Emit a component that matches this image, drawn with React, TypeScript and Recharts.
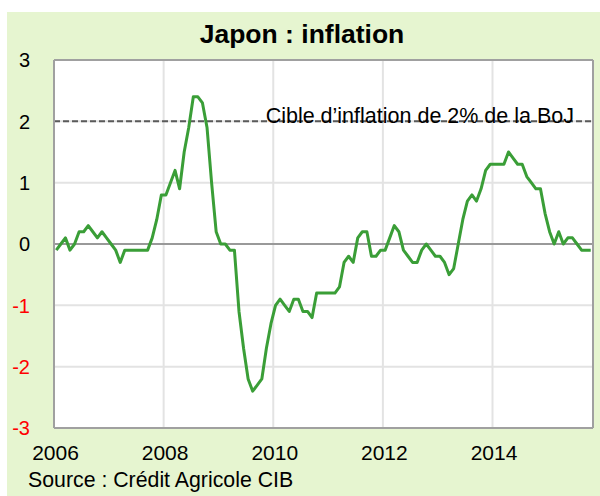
import { LineChart, Line, XAxis, YAxis, CartesianGrid, ReferenceLine } from "recharts";

// Inflation sous-jacente, glissement annuel (%), mensuel
const infl2006 = [-0.1, 0.0, 0.1, -0.1, 0.0, 0.2, 0.2, 0.3, 0.2, 0.1, 0.2, 0.1];
const infl2007 = [0.0, -0.1, -0.3, -0.1, -0.1, -0.1, -0.1, -0.1, -0.1, 0.1, 0.4, 0.8];
const infl2008 = [0.8, 1.0, 1.2, 0.9, 1.5, 1.9, 2.4, 2.4, 2.3, 1.9, 1.0, 0.2];
const infl2009 = [0.0, 0.0, -0.1, -0.1, -1.1, -1.7, -2.2, -2.4, -2.3, -2.2, -1.7, -1.3];
const infl2010 = [-1.0, -0.9, -1.0, -1.1, -0.9, -0.9, -1.1, -1.1, -1.2, -0.8, -0.8, -0.8];
const infl2011 = [-0.8, -0.8, -0.7, -0.3, -0.2, -0.3, 0.1, 0.2, 0.2, -0.2, -0.2, -0.1];
const infl2012 = [-0.1, 0.1, 0.3, 0.2, -0.1, -0.2, -0.3, -0.3, -0.1, 0.0, -0.1, -0.2];
const infl2013 = [-0.2, -0.3, -0.5, -0.4, 0.0, 0.4, 0.7, 0.8, 0.7, 0.9, 1.2, 1.3];
const infl2014 = [1.3, 1.3, 1.3, 1.5, 1.4, 1.3, 1.3, 1.1, 1.0, 0.9, 0.9, 0.5];
const infl2015 = [0.2, 0.0, 0.2, 0.0, 0.1, 0.1, 0.0, -0.1, -0.1, -0.1];

const years = [2006, 2007, 2008, 2009, 2010, 2011, 2012, 2013, 2014, 2015];
const series = [infl2006, infl2007, infl2008, infl2009, infl2010, infl2011, infl2012, infl2013, infl2014, infl2015];

const xTicks = [2006, 2008, 2010, 2012, 2014];
const yTicks = [-3, -2, -1, 0, 1, 2, 3];
const target = 2;
const xMax = 2015 + 10 / 12;

const data = series.flatMap((vals, i) =>
  vals.map((v, m) => ({ t: years[i] + (m + 0.5) / 12, v }))
);

const FONT = "'Liberation Sans', Arial, sans-serif";

const YTick = (props: any) => {
  const { x, y, payload } = props;
  return (
    <text x={x} y={y} dy="0.36em" textAnchor="end" fontSize={20} fontFamily={FONT} fill={payload.value < 0 ? "#ff0000" : "#000"}>
      {payload.value}
    </text>
  );
};

const XTick = (props: any) => {
  const { x, y, payload } = props;
  return (
    <text x={x + 1.5} y={y} dy={15} textAnchor="middle" fontSize={21} fontFamily={FONT} fill="#000">
      {payload.value}
    </text>
  );
};

const TargetLabel = (props: any) => {
  const { viewBox } = props;
  return (
    <text x={viewBox.x + viewBox.width - 19} y={viewBox.y + 2} textAnchor="end" fontSize={21.5} fontFamily={FONT} fill="#000">
      Cible d’inflation de 2% de la BoJ
    </text>
  );
};

export default function App() {
  return (
    <div style={{ position: "absolute", left: 7, top: 12, width: 593, height: 484, background: "#e6f5d0" }}>
      <LineChart width={593} height={484} data={data} margin={{ top: 48, right: 7, left: 0, bottom: 28 }}>
        <CartesianGrid fill="#fff" stroke="#e3e3e3" strokeWidth={2} />
        <XAxis
          dataKey="t"
          type="number"
          domain={[2006, xMax]}
          ticks={xTicks}
          axisLine={false}
          tickLine={false}
          tickSize={0}
          tickMargin={17}
          height={40}
          tick={<XTick />}
        />
        <YAxis
          type="number"
          domain={[-3, 3]}
          ticks={yTicks}
          axisLine={false}
          tickLine={false}
          tickSize={0}
          tickMargin={24}
          width={47}
          tick={<YTick />}
        />
        <ReferenceLine y={0} stroke="#999" strokeWidth={2} />
        <ReferenceLine y={target} stroke="#5a5a5a" strokeWidth={2} strokeDasharray="6 3" label={<TargetLabel />} />
        <Line
          type="linear"
          dataKey="v"
          stroke="#3a9e37"
          strokeWidth={3}
          strokeLinejoin="round"
          dot={false}
          isAnimationActive={false}
        />
        <ReferenceLine x={2006} stroke="#a0a0a0" strokeWidth={2} />
        <ReferenceLine x={xMax} stroke="#a0a0a0" strokeWidth={2} />
        <ReferenceLine y={3} stroke="#a0a0a0" strokeWidth={2} />
        <ReferenceLine y={-3} stroke="#a0a0a0" strokeWidth={2} />
      </LineChart>
      <svg width={593} height={484} style={{ position: "absolute", left: 0, top: 0, pointerEvents: "none" }}>
        <text x={295} y={31} textAnchor="middle" fontSize={26.5} fontWeight="bold" fontFamily={FONT} fill="#000">
          Japon : inflation
        </text>
        <text x={21} y={475} fontSize={21.3} fontFamily={FONT} fill="#000">
          Source : Crédit Agricole CIB
        </text>
      </svg>
    </div>
  );
}
